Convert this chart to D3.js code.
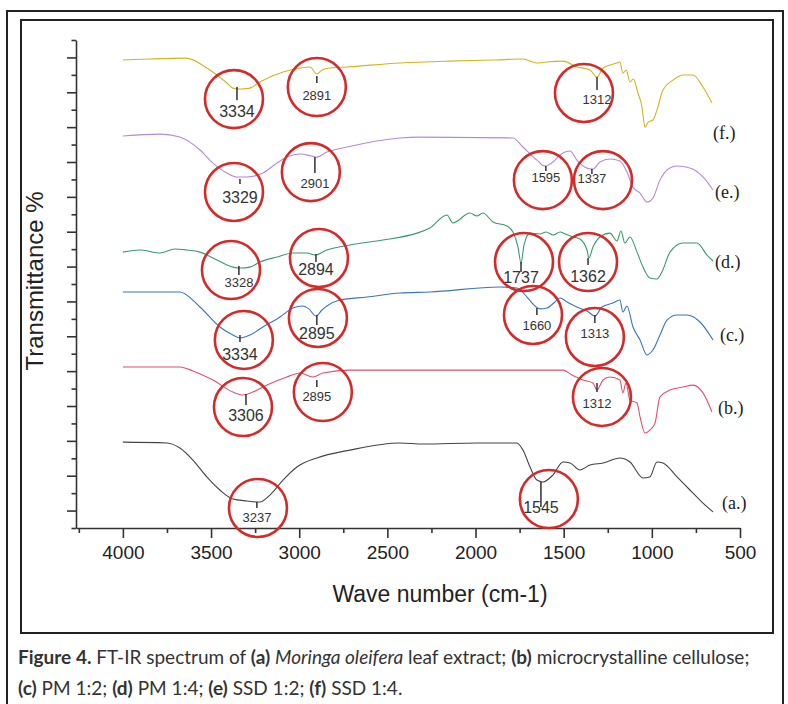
<!DOCTYPE html>
<html lang="en">
<head>
<meta charset="UTF-8">
<title>FT-IR spectrum</title>
<style>
  body { margin: 0; background: #fff; }
  svg { display: block; background: #fff; }
  .axis text { font-family: "Liberation Sans", Arial, sans-serif; font-size: 19px; fill: #222; }
  .axis path, .axis line { stroke: #333; stroke-width: 1.6; }
  .spec { fill: none; stroke-width: 1.1; stroke-linejoin: round; }
</style>
</head>
<body>
<svg width="788" height="704"></svg>
<script src="https://d3js.org/d3.v7.min.js"></script>
<script>
// wavenumber ticks
const waveTicks = [4000, 3500, 3000, 2500, 2000, 1500, 1000, 500];
const waveMinor = [4250, 3750, 3250, 2750, 2250, 1750, 1250, 750];

const seriesKeys = ["a", "b", "c", "d", "e", "f"];
const seriesTags = ["(a.)", "(b.)", "(c.)", "(d.)", "(e.)", "(f.)"];
// where the tags sit, [wavenumber, transmittance]
const tagPos = [[602, 1.09], [625, 6.54], [614, 10.73], [642, 14.92], [642, 18.93], [653, 22.32]];

// spectra, [wavenumber, transmittance (offset units)]
const specA = [[4000,4.93],[3750,4.88],[3677,4.59],[3603,3.90],[3524,2.93],[3450,2.18],[3376,1.66],[3297,1.55],[3223,1.49],
  [3166,1.89],[3092,2.75],[3013,3.50],[2900,4.02],[2712,4.47],[2429,4.88],[2298,4.82],[1992,4.88],[1765,4.88],[1731,4.47],
  [1691,3.50],[1652,2.75],[1618,2.64],[1561,3.04],[1504,3.79],[1464,3.73],[1408,3.33],[1351,3.61],[1277,3.73],[1181,4.02],
  [1124,3.79],[1050,2.87],[1011,2.93],[971,3.79],[937,3.73],[857,2.93],[784,2.18],[710,1.43],[653,0.92]];
const specB = [[4000,9.24],[3677,9.24],[3603,9.01],[3489,8.49],[3376,7.80],[3319,7.63],[3263,7.80],[3183,8.20],[3070,8.66],
  [2996,8.89],[2922,8.66],[2866,8.89],[2712,9.06],[2429,9.06],[2185,9.06],[1918,9.06],[1504,9.06],[1453,8.78],[1391,8.49],
  [1334,8.32],[1311,7.92],[1277,8.49],[1238,8.66],[1181,8.49],[1164,7.75],[1147,8.32],[1124,7.34],[1084,7.17],[1067,6.37],
  [1039,5.45],[1011,5.62],[982,6.02],[954,7.52],[897,7.92],[823,8.09],[767,8.20],[710,7.75],[659,6.66]];
const specC = [[4000,13.54],[3677,13.54],[3563,12.68],[3450,11.53],[3376,11.07],[3336,10.90],[3280,11.07],[3206,11.53],
  [3109,12.11],[3036,12.62],[2979,12.74],[2945,12.57],[2905,12.16],[2871,12.51],[2843,12.74],[2769,13.08],[2616,13.25],
  [2429,13.48],[2259,13.54],[1861,13.83],[1765,13.77],[1708,13.25],[1663,12.74],[1635,12.57],[1595,12.62],[1550,12.97],
  [1521,13.20],[1481,12.97],[1425,12.68],[1368,12.45],[1323,12.16],[1283,12.68],[1221,12.91],[1181,13.08],[1164,12.39],
  [1141,12.74],[1107,11.53],[1067,10.79],[1028,9.93],[994,10.21],[954,11.07],[914,11.93],[857,12.22],[801,12.22],
  [727,11.82],[653,10.79]];
const specD = [[4000,15.83],[3904,15.95],[3790,15.78],[3705,16.01],[3637,15.95],[3563,15.83],[3467,15.38],[3376,14.97],
  [3336,14.92],[3280,14.97],[3223,15.26],[3126,15.55],[3036,15.78],[2956,15.78],[2911,15.66],[2843,15.95],[2712,16.24],
  [2525,16.52],[2332,16.92],[2259,17.21],[2162,17.96],[2128,17.50],[2032,18.07],[1992,17.90],[1958,18.07],[1901,17.56],
  [1822,17.33],[1788,16.98],[1759,16.12],[1742,15.20],[1725,16.24],[1691,16.92],[1635,16.87],[1600,16.98],[1560,16.81],
  [1520,16.98],[1490,16.87],[1447,16.70],[1408,16.58],[1368,15.95],[1357,15.49],[1334,16.12],[1294,16.70],[1238,16.92],
  [1198,16.47],[1175,17.04],[1153,16.35],[1124,16.70],[1084,15.83],[1050,14.97],[1011,14.34],[971,14.29],[943,14.69],
  [897,15.83],[823,16.35],[744,16.35],[687,15.66],[653,15.32]];
const specE = [[4000,22.49],[3790,22.60],[3677,22.43],[3563,21.69],[3489,20.94],[3410,20.37],[3353,20.14],[3297,20.14],
  [3206,20.37],[3126,20.94],[3070,21.28],[2996,21.46],[2928,21.34],[2900,21.28],[2843,21.57],[2729,21.86],[2429,22.38],
  [2315,22.43],[1788,22.38],[1731,21.86],[1652,21.11],[1606,20.77],[1561,21.00],[1521,21.40],[1464,21.63],[1425,21.11],
  [1368,20.65],[1334,20.60],[1294,21.00],[1238,21.17],[1181,21.06],[1141,20.42],[1107,19.56],[1067,19.22],[1028,18.70],
  [994,18.93],[954,19.96],[914,20.54],[857,20.77],[784,20.65],[710,20.14],[653,19.39]];
const specF = [[4000,26.85],[3850,26.91],[3640,26.96],[3524,26.39],[3410,25.53],[3376,25.24],[3336,25.19],[3280,25.24],
  [3223,25.59],[3092,26.16],[2996,26.39],[2939,26.45],[2900,26.05],[2870,26.28],[2826,26.39],[2729,26.45],[2429,26.68],
  [2145,26.79],[1900,26.85],[1731,26.91],[1652,26.68],[1600,26.74],[1504,26.79],[1425,26.45],[1351,26.28],[1311,25.87],
  [1277,26.39],[1198,26.68],[1181,26.74],[1164,26.10],[1145,26.28],[1124,25.59],[1105,25.76],[1079,24.96],[1056,24.15],
  [1045,23.29],[1039,23.00],[1020,23.29],[994,23.41],[971,23.98],[937,25.13],[880,25.70],[823,25.99],[767,25.99],
  [710,25.30],[659,24.38]];
const spectra = [specA, specB, specC, specD, specE, specF];

// marked peaks: label, series, marker wavenumber, marker top/bottom, text baseline, circle centre
const peaks = [
  ["3334", "f", 3353, 25.30, 24.55, 23.58, 3370, 24.61],
  ["2891", "f", 2900, 25.93, 25.53, 24.58, 2900, 25.30],
  ["1312", "f", 1311, 25.87, 25.13, 24.30, 1385, 24.96],
  ["3329", "e", 3336, 20.02, 19.74, 18.65, 3370, 19.28],
  ["2901", "e", 2911, 21.28, 20.37, 19.51, 2934, 20.42],
  ["1595", "e", 1601, 20.77, 20.48, 19.85, 1618, 19.96],
  ["1337", "e", 1340, 20.60, 20.31, 19.79, 1277, 19.96],
  ["3328", "d", 3342, 15.03, 14.51, 13.83, 3387, 14.80],
  ["2894", "d", 2905, 15.72, 15.26, 14.49, 2888, 15.49],
  ["1737", "d", 1742, 15.26, 14.69, 14.06, 1725, 15.26],
  ["1362", "d", 1362, 15.49, 15.09, 14.14, 1362, 15.26],
  ["3334", "c", 3336, 11.07, 10.67, 9.64, 3314, 10.79],
  ["2895", "c", 2900, 12.22, 11.65, 10.84, 2894, 12.05],
  ["1660", "c", 1652, 12.62, 12.22, 11.36, 1674, 12.22],
  ["1313", "c", 1323, 12.22, 11.76, 10.90, 1323, 10.96],
  ["3306", "b", 3302, 7.69, 7.06, 6.14, 3319, 6.94],
  ["2895", "b", 2900, 8.49, 8.09, 7.31, 2866, 7.80],
  ["1312", "b", 1311, 8.32, 7.80, 6.91, 1283, 7.52],
  ["3237", "a", 3240, 1.49, 1.15, 0.34, 3234, 1.15],
  ["1545", "a", 1629, 2.64, 1.20, 0.86, 1584, 1.66]
];

// styles
const colors = { a: "#444444", b: "#e0506e", c: "#3a74bc", d: "#3a9a6e", e: "#b68ad6", f: "#d2b41e" };
const bigLabels = new Set([0, 3, 8, 9, 10, 11, 12, 15, 19]);

const svg = d3.select("svg");

// frames
svg.append("rect").attr("x", 7).attr("y", 11).attr("width", 776).attr("height", 700)
  .attr("fill", "none").attr("stroke", "#222").attr("stroke-width", 2);
svg.append("rect").attr("x", 21).attr("y", 20).attr("width", 752).attr("height", 613)
  .attr("fill", "#fff").attr("stroke", "#222").attr("stroke-width", 2);

const x = d3.scaleLinear().domain([4266, 500]).range([76, 740]);
const y = d3.scaleLinear().domain([0, 28]).range([528, 40]);

// x axis
svg.append("g").attr("class", "axis").attr("transform", "translate(0,528)")
  .call(d3.axisBottom(x).tickValues(waveTicks).tickSize(10).tickSizeOuter(0).tickPadding(8).tickFormat(d3.format("d")));
svg.append("g").attr("class", "axis").attr("transform", "translate(0,528)")
  .call(d3.axisBottom(x).tickValues(waveMinor).tickSize(5).tickFormat(""))
  .select(".domain").remove();

// y axis: long ticks on odd values, short on even
const yVals = d3.range(0, 29);
svg.append("g").attr("class", "axis").attr("transform", "translate(76,0)")
  .call(d3.axisLeft(y).tickValues(yVals.filter(v => v % 2 === 1)).tickSize(9).tickSizeOuter(0).tickFormat(""));
svg.append("g").attr("class", "axis").attr("transform", "translate(76,0)")
  .call(d3.axisLeft(y).tickValues(yVals.filter(v => v % 2 === 0)).tickSize(4.5).tickFormat(""))
  .select(".domain").remove();

// axis titles
svg.append("text").attr("x", 440).attr("y", 602).attr("text-anchor", "middle")
  .attr("font-family", "'Liberation Sans', Arial, sans-serif").attr("font-size", 23).attr("fill", "#222")
  .text("Wave number (cm-1)");
svg.append("text").attr("transform", "translate(43,281) rotate(-90)").attr("text-anchor", "middle")
  .attr("font-family", "'Liberation Sans', Arial, sans-serif").attr("font-size", 24).attr("fill", "#222")
  .text("Transmittance %");

// spectra
const line = d3.line().x(d => x(d[0])).y(d => y(d[1])).curve(d3.curveMonotoneX);
svg.append("g").selectAll("path").data(spectra).enter().append("path")
  .attr("class", "spec")
  .attr("stroke", (d, i) => colors[seriesKeys[i]])
  .attr("d", line);

// series tags
svg.append("g").selectAll("text").data(seriesTags).enter().append("text")
  .attr("x", (d, i) => x(tagPos[i][0]))
  .attr("y", (d, i) => y(tagPos[i][1]))
  .attr("font-family", "'Liberation Serif', 'Times New Roman', serif")
  .attr("font-size", 18).attr("fill", "#222")
  .text(d => d);

// peak markers
const pk = svg.append("g");
pk.selectAll("line").data(peaks).enter().append("line")
  .attr("x1", d => x(d[2])).attr("x2", d => x(d[2]))
  .attr("y1", d => y(d[3])).attr("y2", d => y(d[4]))
  .attr("stroke", "#222").attr("stroke-width", 1.4);
pk.selectAll("text").data(peaks).enter().append("text")
  .attr("x", d => x(d[2])).attr("y", d => y(d[5]))
  .attr("text-anchor", "middle")
  .attr("font-family", "'Liberation Sans', Arial, sans-serif")
  .attr("font-size", (d, i) => bigLabels.has(i) ? 16 : 13)
  .attr("fill", "#333")
  .text(d => d[0]);
pk.selectAll("circle").data(peaks).enter().append("circle")
  .attr("cx", d => x(d[6])).attr("cy", d => y(d[7])).attr("r", 29)
  .attr("fill", "none").attr("stroke", "#d42a2a").attr("stroke-width", 2.6);

// caption
function caption(parts, yPos) {
  const t = svg.append("text").attr("x", 18).attr("y", yPos)
    .style("font-family", "Lato, 'Noto Sans', sans-serif").style("font-size", "19px").style("fill", "#333");
  parts.forEach(p => t.append("tspan").text(p[0])
    .style("font-weight", p[1] === "b" ? "bold" : "normal")
    .style("font-style", p[1] === "i" ? "italic" : "normal"));
}
const capParts1 = [["Figure 4.", "b"], [" FT-IR spectrum of ", ""], ["(a)", "b"], [" ", ""], ["Moringa oleifera", "i"],
  [" leaf extract; ", ""], ["(b)", "b"], [" microcrystalline cellulose;", ""]];
const capParts2 = [["(c)", "b"], [" PM 1:2; ", ""], ["(d)", "b"], [" PM 1:4; ", ""], ["(e)", "b"], [" SSD 1:2; ", ""],
  ["(f)", "b"], [" SSD 1:4.", ""]];
caption(capParts1, 664);
caption(capParts2, 695);
</script>
</body>
</html>
